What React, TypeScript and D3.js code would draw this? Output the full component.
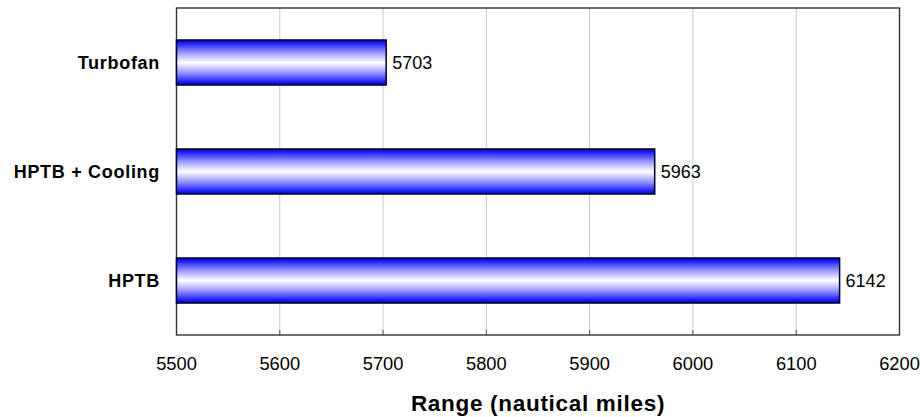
import React from "react";
import * as d3 from "d3";

const categories = ["Turbofan", "HPTB + Cooling", "HPTB"];
const rangeValues = [5703, 5963, 6142];
const xTicks = [5500, 5600, 5700, 5800, 5900, 6000, 6100, 6200];
const axisTitle = "Range (nautical miles)";

const W = 922;
const H = 417;
const M = { left: 176.5, right: 899.5, top: 8, bottom: 335 };

export default function App() {
  const x = d3.scaleLinear().domain([5500, 6200]).range([M.left, M.right]);
  const y = d3
    .scaleBand<string>()
    .domain(categories)
    .range([M.top, M.bottom])
    .paddingInner(0.587)
    .paddingOuter(0.2935);
  const font = "Arial, 'Liberation Sans', Helvetica, sans-serif";
  return (
    <svg
      width={W}
      height={H}
      style={{ position: "absolute", left: 0, top: 0, background: "#fff" }}
      fontFamily={font}
    >
      <defs>
        <linearGradient id="barGrad" x1="0" y1="0" x2="0" y2="1">
          <stop offset="0%" stopColor="#0000c0" />
          <stop offset="8%" stopColor="#2424ff" />
          <stop offset="28%" stopColor="#9a9aff" />
          <stop offset="50%" stopColor="#ffffff" />
          <stop offset="72%" stopColor="#9a9aff" />
          <stop offset="92%" stopColor="#2424ff" />
          <stop offset="100%" stopColor="#0000c0" />
        </linearGradient>
      </defs>
      {xTicks.map((t) => (
        <line
          key={"g" + t}
          x1={x(t)}
          x2={x(t)}
          y1={M.top}
          y2={M.bottom}
          stroke="#c8c8c8"
          strokeWidth={1}
        />
      ))}
      {xTicks.map((t) => (
        <line
          key={"t" + t}
          x1={x(t)}
          x2={x(t)}
          y1={M.bottom}
          y2={M.bottom - 5}
          stroke="#555"
          strokeWidth={1}
        />
      ))}
      <rect
        x={M.left}
        y={M.top}
        width={M.right - M.left}
        height={M.bottom - M.top}
        fill="none"
        stroke="#333"
        strokeWidth={1.4}
      />
      {categories.map((c, i) => (
        <g key={c}>
          <rect
            x={x(5500)}
            y={y(c)!}
            width={x(rangeValues[i]) - x(5500)}
            height={y.bandwidth()}
            fill="url(#barGrad)"
            stroke="#00002a"
            strokeWidth={1.5}
          />
          <text
            x={x(rangeValues[i]) + 6}
            y={y(c)! + y.bandwidth() / 2}
            dy="0.35em"
            fontSize={18}
            fill="#000"
          >
            {rangeValues[i]}
          </text>
          <text
            x={160}
            y={y(c)! + y.bandwidth() / 2}
            dy="0.35em"
            textAnchor="end"
            fontSize={18}
            fontWeight="bold"
            letterSpacing={0.7}
            fill="#000"
          >
            {c}
          </text>
        </g>
      ))}
      {xTicks.map((t) => (
        <text
          key={"l" + t}
          x={x(t)}
          y={370}
          textAnchor="middle"
          fontSize={18.3}
          fill="#000"
        >
          {t}
        </text>
      ))}
      <text
        x={(M.left + M.right) / 2}
        y={411}
        textAnchor="middle"
        fontSize={22.5}
        fontWeight="bold"
        letterSpacing={0.7}
        fill="#000"
      >
        {axisTitle}
      </text>
    </svg>
  );
}
